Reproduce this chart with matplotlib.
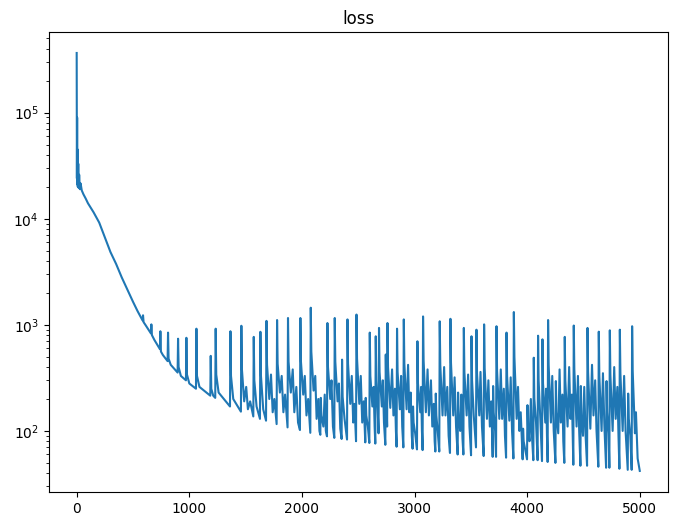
import matplotlib
matplotlib.use("Agg")
import matplotlib.pyplot as plt

# loss values (step, loss)
warmup_points = [
    (0, 365000), (2, 24000), (4, 90000), (6, 21000), (8, 45000), (10, 20000),
    (14, 33000), (18, 19500), (22, 26000), (28, 19000), (35, 21500), (45, 18500),
    (60, 17000), (80, 15500), (100, 14000), (150, 11500), (200, 9200),
    (250, 6700), (300, 4850), (350, 3750), (400, 2800), (450, 2150),
    (500, 1650), (540, 1350),
]

early_spikes = [
    (585, 1100), (589, 1230), (594, 1060), (610, 1000),
    (659, 830), (663, 1010), (668, 800), (690, 720),
    (739, 590), (743, 870), (748, 560), (765, 520),
    (807, 455), (811, 845), (816, 480), (835, 420),
    (896, 355), (900, 740), (905, 400), (925, 330),
    (970, 300), (974, 755), (979, 340), (1000, 280),
    (1059, 250), (1063, 920), (1068, 330), (1090, 260),
    (1186, 215), (1190, 510), (1195, 250), (1212, 215),
    (1230, 205), (1234, 920), (1239, 340), (1260, 230),
    (1361, 170), (1365, 870), (1370, 330), (1390, 200),
    (1458, 152), (1462, 980), (1467, 380), (1487, 190),
    (1505, 260), (1520, 160), (1540, 190),
    (1568, 137), (1572, 770), (1577, 300), (1597, 170),
    (1627, 130), (1631, 860), (1636, 330), (1656, 160),
    (1681, 125), (1685, 1090), (1690, 420), (1710, 200),
    (1725, 340), (1740, 150), (1755, 200),
    (1775, 116), (1779, 1110), (1784, 430), (1804, 230),
    (1820, 330), (1835, 150), (1850, 220),
    (1872, 108), (1876, 1160), (1881, 450), (1901, 230),
    (1918, 380), (1932, 150), (1950, 260), (1965, 120),
    (1982, 102), (1986, 1160), (1991, 450), (2011, 220),
    (2025, 330), (2040, 140), (2055, 200),
    (2074, 96), (2078, 1450), (2083, 560), (2103, 240),
    (2118, 330), (2130, 130), (2145, 200), (2155, 100),
    (2163, 92), (2167, 205), (2172, 140), (2190, 110),
    (2202, 220), (2212, 100),
    (2222, 89), (2226, 1040), (2231, 400), (2251, 200),
    (2262, 300), (2275, 110),
    (2287, 86), (2291, 1160), (2296, 450), (2316, 190),
    (2328, 280), (2340, 105),
    (2352, 84), (2356, 470), (2361, 210), (2378, 130),
    (2400, 83), (2404, 1125), (2409, 430), (2429, 180),
    (2442, 330), (2455, 120), (2466, 180),
    (2480, 80), (2484, 1250), (2489, 480), (2509, 180),
    (2522, 330), (2535, 120), (2548, 190),
]

late_spikes = [
    (2562, 78), (2566, 205), (2571, 140), (2585, 110),
    (2598, 77), (2602, 845), (2607, 330), (2625, 170),
    (2636, 260), (2645, 110),
    (2651, 76), (2655, 780), (2660, 300), (2672, 160),
    (2680, 95), (2684, 935), (2689, 360), (2709, 170),
    (2718, 300), (2728, 120),
    (2740, 74), (2744, 525), (2749, 220), (2755, 130),
    (2756, 110), (2759, 1040), (2764, 400), (2784, 165),
    (2800, 380), (2812, 140), (2825, 250), (2834, 100),
    (2840, 71), (2844, 920), (2849, 360), (2869, 160),
    (2880, 330), (2890, 110),
    (2900, 70), (2904, 1125), (2909, 430), (2929, 160),
    (2942, 420), (2953, 150), (2965, 230), (2975, 90),
    (2982, 68), (2986, 170), (2991, 120), (3005, 95),
    (3021, 67), (3025, 700), (3030, 280), (3050, 150),
    (3058, 260), (3065, 100),
    (3071, 66), (3075, 1200), (3080, 460), (3100, 150),
    (3115, 380), (3127, 140), (3145, 300), (3157, 110), (3170, 180), (3178, 80),
    (3184, 64), (3188, 225), (3193, 140), (3205, 100),
    (3219, 64), (3223, 1080), (3228, 420), (3248, 140),
    (3262, 400), (3274, 140), (3290, 260), (3302, 90),
    (3314, 62), (3318, 1140), (3323, 440), (3343, 140),
    (3355, 320), (3368, 110),
    (3382, 60), (3386, 230), (3391, 140), (3405, 100),
    (3415, 220), (3425, 85),
    (3433, 60), (3437, 935), (3442, 360), (3462, 140),
    (3475, 340), (3487, 110),
    (3501, 59), (3505, 780), (3510, 300), (3525, 140),
    (3545, 70), (3549, 900), (3554, 350), (3574, 140),
    (3585, 360), (3598, 110),
    (3613, 58), (3617, 1010), (3622, 390), (3642, 130),
    (3655, 300), (3668, 110), (3680, 190),
    (3693, 57), (3697, 265), (3702, 150), (3715, 100),
    (3723, 57), (3727, 970), (3732, 370), (3752, 130),
    (3765, 380), (3777, 130), (3792, 250), (3802, 90),
    (3812, 56), (3816, 845), (3821, 330), (3841, 125),
    (3853, 320), (3865, 100),
    (3877, 55), (3881, 1320), (3886, 500), (3906, 130),
    (3918, 260), (3930, 100), (3942, 150),
    (3959, 54), (3963, 105), (3968, 80),
    (3998, 54), (4002, 175), (4007, 110), (4020, 80),
    (4032, 200), (4043, 85),
    (4054, 53), (4058, 490), (4063, 200), (4078, 120),
    (4092, 53), (4096, 790), (4101, 300), (4116, 130),
    (4131, 52), (4135, 730), (4140, 280), (4160, 120),
    (4168, 250), (4175, 90),
    (4181, 51), (4185, 1110), (4190, 420), (4210, 120),
    (4222, 330), (4235, 100),
    (4250, 50), (4254, 295), (4259, 150), (4275, 95),
    (4287, 380), (4298, 120), (4312, 220), (4320, 80),
    (4329, 50), (4333, 770), (4338, 300), (4358, 110),
    (4372, 400), (4384, 130), (4396, 220),
    (4409, 48), (4413, 985), (4418, 380), (4438, 110),
    (4450, 330), (4461, 100),
    (4472, 47), (4476, 265), (4481, 140), (4495, 90),
    (4506, 260), (4518, 90),
    (4531, 47), (4535, 935), (4540, 360), (4560, 105),
    (4575, 420), (4588, 140), (4603, 300), (4615, 100),
    (4631, 46), (4635, 862), (4640, 330), (4660, 100),
    (4672, 350), (4685, 110),
    (4700, 45), (4704, 295), (4709, 150), (4722, 95),
    (4729, 45), (4733, 888), (4738, 340), (4758, 100),
    (4772, 400), (4785, 130), (4800, 260), (4810, 90),
    (4818, 44), (4822, 900), (4827, 350), (4847, 100),
    (4860, 330), (4873, 100),
    (4892, 43), (4896, 225), (4901, 130), (4915, 90),
    (4927, 43), (4931, 970), (4936, 370), (4956, 95),
    (4965, 150), (4980, 55), (4999, 42),
]

points = warmup_points + early_spikes + late_spikes
steps = [p[0] for p in points]
loss = [p[1] for p in points]

fig = plt.figure(figsize=(6.74, 5.26), dpi=100)
fig.subplots_adjust(left=0.072, right=0.991, top=0.939, bottom=0.065)
plt.plot(steps, loss, linewidth=1.5)
plt.yscale('log')
plt.title('loss')
plt.savefig("out.png", dpi=100)
plt.close()
